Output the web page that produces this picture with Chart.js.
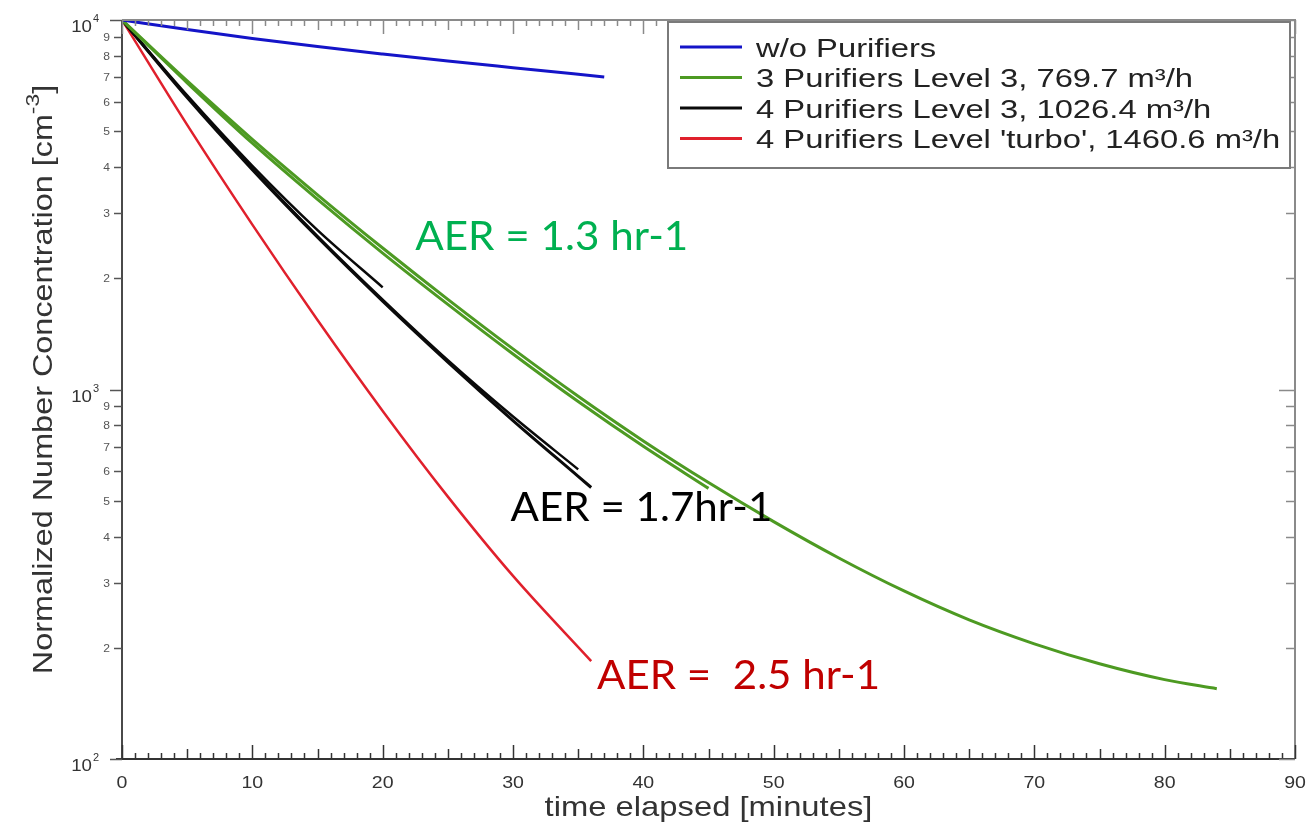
<!DOCTYPE html>
<html><head><meta charset="utf-8">
<script src="https://cdn.jsdelivr.net/npm/chart.js@4.4.1/dist/chart.umd.min.js"></script>
<style>html,body{margin:0;padding:0;background:#fff;}#wrap{width:1309px;height:822px;}</style>
</head><body><div id="wrap"><canvas id="c" width="1309" height="822"></canvas></div>
<script>
// ---- data ----
const seriesLabels = ["w/o Purifiers","3 Purifiers Level 3, 769.7 m³/h","4 Purifiers Level 3, 1026.4 m³/h","4 Purifiers Level 'turbo', 1460.6 m³/h"];
const blueTime = [0,5,10,15,20,25,30,37];
const blueValues = [10000,9419,8913,8472,8091,7745,7430,7015];
const greenLongTime = [0,5,10,15,20,25,30,35,40,45,50,55,60,65,70,75,80,84];
const greenLongValues = [10000,6839,4753,3365,2415,1754,1288,959,726,560,439,350,285,238,205,181,164,155];
const greenShortTime = [0,5,10,15,20,25,30,35,40,45];
const greenShortValues = [10000,6760,4640,3270,2340,1700,1248,928,702,540];
const blackMainTime = [0,5,10,15,20,25,30,35,36];
const blackMainValues = [10000,6166,3936,2582,1734,1186,824,582,543];
const blackSecondTime = [0,5,10,15,20,25,30,35];
const blackSecondValues = [10000,6200,3960,2600,1750,1200,845,608];
const blackShortTime = [0,5,10,15,20];
const blackShortValues = [10000,6250,4030,2700,1890];
const redTime = [0,5,10,15,20,25,30,36];
const redValues = [10000,5200,2793,1542,875,513,313,184];
const xTickLabels = ["0","10","20","30","40","50","60","70","80","90"];
const yMinorLabels = ["2","3","4","5","6","7","8","9"];
const yMajorExponents = ["2","3","4"];
const aerTexts = ["AER = 1.3 hr-1","AER = 1.7hr-1","AER =  2.5 hr-1"];

const pts = (t, v) => t.map((x, i) => ({x: x, y: v[i]}));
const BLUE = '#1414c8', GREEN = '#4d9a22', BLACK = '#0a0a0a', RED = '#e0202c';

const datasets = [
  {label: seriesLabels[0], data: pts(blueTime, blueValues), borderColor: BLUE, borderWidth: 3},
  {label: seriesLabels[1], data: pts(greenLongTime, greenLongValues), borderColor: GREEN, borderWidth: 3},
  {label: seriesLabels[1], data: pts(greenShortTime, greenShortValues), borderColor: GREEN, borderWidth: 3},
  {label: seriesLabels[2], data: pts(blackMainTime, blackMainValues), borderColor: BLACK, borderWidth: 3},
  {label: seriesLabels[2], data: pts(blackSecondTime, blackSecondValues), borderColor: BLACK, borderWidth: 2.5},
  {label: seriesLabels[2], data: pts(blackShortTime, blackShortValues), borderColor: BLACK, borderWidth: 2.5},
  {label: seriesLabels[3], data: pts(redTime, redValues), borderColor: RED, borderWidth: 2.5}
];

const FONT = "'Liberation Sans', Arial, sans-serif";
function sText(ctx, str, x, y, size, color, align, sx, family) {
  ctx.save();
  ctx.font = size + 'px ' + (family || FONT);
  ctx.fillStyle = color;
  ctx.textBaseline = 'alphabetic';
  ctx.textAlign = 'left';
  const w = ctx.measureText(str).width * sx;
  const x0 = align === 'center' ? x - w / 2 : (align === 'right' ? x - w : x);
  ctx.translate(x0, y); ctx.scale(sx, 1); ctx.fillText(str, 0, 0);
  ctx.restore();
  return w;
}
function tw(ctx, str, size, sx, family) {
  ctx.save(); ctx.font = size + 'px ' + (family || FONT);
  const w = ctx.measureText(str).width * sx; ctx.restore(); return w;
}

const framePlugin = {
  id: 'frame',
  afterDatasetsDraw(chart) {
    const ctx = chart.ctx, a = chart.chartArea, xs = chart.scales.x, ys = chart.scales.y;
    ctx.save();
    ctx.lineCap = 'butt';
    ctx.lineWidth = 2;
    ctx.strokeStyle = '#8a8a8a';
    ctx.beginPath(); ctx.moveTo(a.left, a.top); ctx.lineTo(a.right, a.top); ctx.lineTo(a.right, a.bottom); ctx.stroke();
    ctx.strokeStyle = '#4a4a4a';
    ctx.beginPath(); ctx.moveTo(a.left, a.top); ctx.lineTo(a.left, a.bottom); ctx.stroke();
    ctx.strokeStyle = '#333';
    ctx.beginPath(); ctx.moveTo(a.left - 6, a.bottom); ctx.lineTo(a.right, a.bottom); ctx.stroke();
    ctx.lineWidth = 1.5;
    for (let t = 0; t <= 90; t++) {
      const px = Math.round(xs.getPixelForValue(t)) + 0.5;
      const len = t % 10 === 0 ? 14 : (t % 5 === 0 ? 10 : 6);
      ctx.strokeStyle = '#333';
      ctx.beginPath(); ctx.moveTo(px, a.bottom); ctx.lineTo(px, a.bottom - len); ctx.stroke();
      ctx.strokeStyle = '#8a8a8a';
      ctx.beginPath(); ctx.moveTo(px, a.top); ctx.lineTo(px, a.top + len); ctx.stroke();
    }
    for (let d = 2; d <= 4; d++) {
      for (let m = 1; m <= 9; m++) {
        if (d === 4 && m > 1) break;
        const v = m * Math.pow(10, d);
        const py = Math.round(ys.getPixelForValue(v)) + 0.5;
        const major = m === 1;
        ctx.strokeStyle = '#555';
        ctx.beginPath(); ctx.moveTo(a.left, py); ctx.lineTo(a.left - (major ? 12 : 8), py); ctx.stroke();
        ctx.strokeStyle = '#8a8a8a';
        ctx.beginPath(); ctx.moveTo(a.right, py); ctx.lineTo(a.right - (major ? 16 : 9), py); ctx.stroke();
      }
    }
    xTickLabels.forEach((lab) => {
      const px = xs.getPixelForValue(Number(lab));
      sText(ctx, lab, px, 788, 17, '#333', 'center', 1.15);
    });
    yMajorExponents.forEach((e) => {
      const py = ys.getPixelForValue(Math.pow(10, Number(e)));
      sText(ctx, '10', 92, py + 12, 17, '#333', 'right', 1.1);
      sText(ctx, e, 93, py + 2, 10, '#333', 'left', 1.1);
    });
    for (let d = 2; d <= 3; d++) {
      yMinorLabels.forEach((lab) => {
        const py = ys.getPixelForValue(Number(lab) * Math.pow(10, d));
        sText(ctx, lab, 110, py + 4, 11, '#555', 'right', 1.1);
      });
    }
    sText(ctx, 'time elapsed [minutes]', (a.left + a.right) / 2, 816, 28, '#333', 'center', 1.17);
    const yt1 = 'Normalized Number Concentration [cm', yt2 = '-3', yt3 = ']';
    const s1 = 27, s2 = 19, sx = 1.2;
    const w1 = tw(ctx, yt1, s1, sx), w2 = tw(ctx, yt2, s2, sx), w3 = tw(ctx, yt3, s1, sx);
    const total = w1 + w2 + w3;
    ctx.save();
    ctx.translate(52, (a.top + a.bottom) / 2 - 10);
    ctx.rotate(-Math.PI / 2);
    let cx = -total / 2;
    sText(ctx, yt1, cx, 0, s1, '#333', 'left', sx); cx += w1;
    sText(ctx, yt2, cx, -13, s2, '#333', 'left', sx); cx += w2;
    sText(ctx, yt3, cx, 0, s1, '#333', 'left', sx);
    ctx.restore();
    const notes = [
      {t: 22.5, v: 2390, w: 273, c: '#00b050'},
      {t: 29.8, v: 440, w: 262, c: '#000000'},
      {t: 36.45, v: 155, w: 283, c: '#c00000'}
    ];
    aerTexts.forEach((txt, i) => {
      const n = notes[i];
      const fam = "Lato, 'Open Sans', sans-serif";
      const raw = tw(ctx, txt, 40, 1, fam);
      sText(ctx, txt, xs.getPixelForValue(n.t), ys.getPixelForValue(n.v), 40, n.c, 'left', n.w / raw, fam);
    });
    const lx = 668, ly = 22, lw = 622, lh = 146;
    ctx.fillStyle = '#fff';
    ctx.fillRect(lx, ly, lw, lh);
    ctx.strokeStyle = '#7a7a7a'; ctx.lineWidth = 2;
    ctx.strokeRect(lx, ly, lw, lh);
    const seen = [];
    let row = 0;
    chart.data.datasets.forEach((ds) => {
      if (seen.indexOf(ds.label) >= 0) return;
      seen.push(ds.label);
      const cy = 47 + row * 30.5;
      ctx.strokeStyle = ds.borderColor; ctx.lineWidth = 3;
      ctx.beginPath(); ctx.moveTo(680, cy); ctx.lineTo(742, cy); ctx.stroke();
      sText(ctx, ds.label, 756, cy + 9.5, 26, '#222', 'left', 1.26);
      row++;
    });
    ctx.restore();
  }
};

new Chart(document.getElementById('c'), {
  type: 'line',
  data: {datasets: datasets},
  options: {
    responsive: false,
    devicePixelRatio: 1,
    animation: false,
    layout: {padding: {left: 122, top: 20, right: 14, bottom: 63}},
    elements: {point: {radius: 0}, line: {cubicInterpolationMode: 'monotone', fill: false}},
    plugins: {legend: {display: false}, tooltip: {enabled: false}},
    scales: {
      x: {type: 'linear', min: 0, max: 90, display: false},
      y: {type: 'logarithmic', min: 100, max: 10000, display: false}
    }
  },
  plugins: [framePlugin]
});
</script>
</body></html>
